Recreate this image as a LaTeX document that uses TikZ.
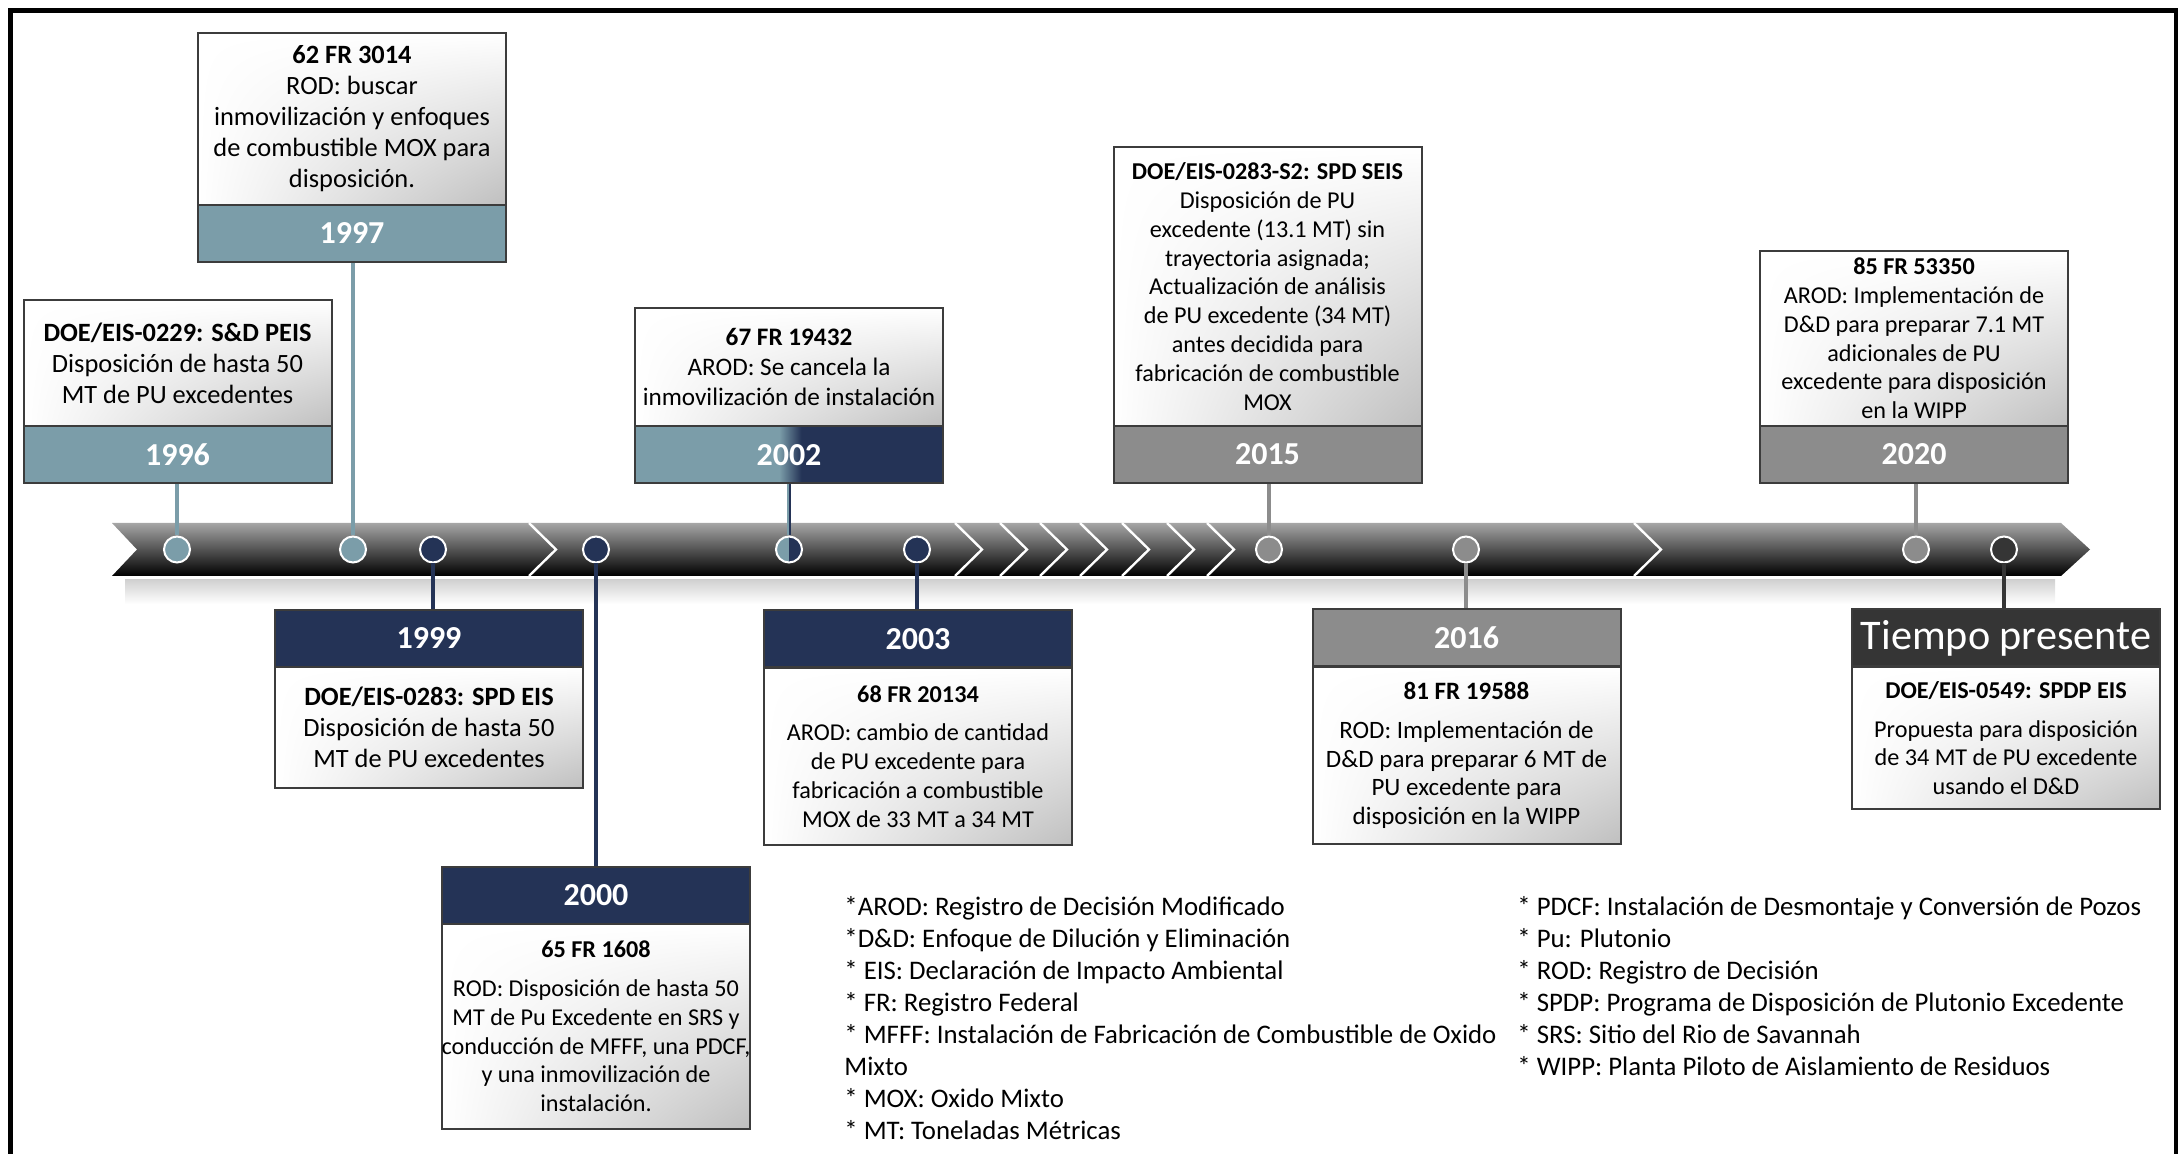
\documentclass[tikz,border=0pt]{standalone}
\usepackage{fontspec}
\setmainfont{Carlito}
\usepackage{xcolor}
\usetikzlibrary{shadings}

\definecolor{steelband}{HTML}{7B9DA9}
\definecolor{navyband}{HTML}{243356}
\definecolor{greyband}{HTML}{8C8C8C}
\definecolor{darkband}{HTML}{353535}
\definecolor{boxline}{HTML}{3C3C3C}
\pgfdeclarehorizontalshading{splitband}{100bp}{color(0bp)=(steelband); color(48.4bp)=(steelband); color(52bp)=(navyband); color(100bp)=(navyband)}

\tikzset{
    eventbox/.style = {draw = boxline, line width = 1pt, upper left = white, upper right = white,
        lower left = white, lower right = black!25, minimum width = 154pt, align = center,
        inner sep = 0pt, font = \fontsize{12.1}{14.4}\selectfont},
    bigbox/.style = {font = \fontsize{13.2}{15.5}\selectfont},
    yearband/.style = {draw = boxline, line width = 1pt, fill = #1, minimum width = 154pt,
        minimum height = 28.5pt, inner sep = 0pt, text = white, font = \fontsize{16}{18}\selectfont\bfseries},
    eventdot/.style = {circle, draw = white, line width = 1pt, fill = #1, minimum size = 13pt, inner sep = 0pt},
    eventstem/.style = {draw = #1, line width = 2.3pt},
    legendline/.style = {anchor = base west, inner sep = 0pt, font = \fontsize{13.4}{15}\selectfont}
}

\begin{document}
\begin{tikzpicture}[x = 0.5pt, y = -0.5pt]
        \useasboundingbox (0,0) rectangle (2180,1154);
        \draw[line width = 2.3pt] (10.5,1170) -- (10.5,10.5) -- (2176,10.5) -- (2176,1170);

        % Timeline
        \shade[top color = black!18, bottom color = white] (125,580) rectangle (2055,604);
        \shade[top color = black!35, middle color = black!85, bottom color = black]
            (112,523) -- (2061,523) -- (2090,549.5) -- (2061,576) -- (112,576) -- (137,549.5) -- cycle;
        \foreach \cx in {529,955,1000,1040,1080,1122,1167,1207,1634}
            \draw[white, line width = 1.2pt] (\cx,523) -- (\cx+27,549.5) -- (\cx,576);

        \node[eventdot = steelband] (d1996) at (177,549.5) {};
        \node[eventdot = steelband] (d1997) at (353,549.5) {};
        \node[eventdot = navyband] (d1999) at (433,549.5) {};
        \node[eventdot = navyband] (d2000) at (596,549.5) {};
        \node[eventdot = steelband, path picture = {\fill[navyband] (path picture bounding box.north)
            rectangle (path picture bounding box.south east);}] (d2002) at (789,549.5) {};
        \node[eventdot = navyband] (d2003) at (917,549.5) {};
        \node[eventdot = greyband] (d2015) at (1269,549.5) {};
        \node[eventdot = greyband] (d2016) at (1466,549.5) {};
        \node[eventdot = greyband] (d2020) at (1916,549.5) {};
        \node[eventdot = darkband] (dnow) at (2004,549.5) {};

        % Above the line
        \node[eventbox, bigbox, minimum height = 63pt] (t1996) at (177.5,363)
            {{\bfseries DOE/EIS-0229: S\&D PEIS}\\Disposición de hasta 50\\MT de PU excedentes};
        \node[yearband = steelband] (y1996) at (177.5,454.5) {1996};

        \node[eventbox, bigbox, minimum height = 86pt] (t1997) at (352,119)
            {{\bfseries 62 FR 3014}\\ROD: buscar\\inmovilización y enfoques\\de combustible MOX para\\disposición.};
        \node[yearband = steelband] (y1997) at (352,233.5) {1997};

        \node[eventbox, font = \fontsize{12.6}{15}\selectfont, minimum height = 59pt] (t2002) at (789,367)
            {{\bfseries 67 FR 19432}\\AROD: Se cancela la\\inmovilización de instalación};
        \node[yearband = steelband, shading = splitband] (y2002) at (789,455) {2002};

        \node[eventbox, minimum height = 139.5pt] (t2015) at (1267.5,286.5)
            {{\bfseries DOE/EIS-0283-S2: SPD SEIS}\\Disposición de PU\\excedente (13.1 MT) sin\\trayectoria asignada;\\
            Actualización de análisis\\de PU excedente (34 MT)\\antes decidida para\\fabricación de combustible\\MOX};
        \node[yearband = greyband] (y2015) at (1267.5,454.5) {2015};

        \node[eventbox, minimum height = 87.5pt] (t2020) at (1914,338.5)
            {{\bfseries 85 FR 53350}\\AROD: Implementación de\\D\&D para preparar 7.1 MT\\adicionales de PU\\excedente para disposición\\en la WIPP};
        \node[yearband = greyband] (y2020) at (1914,454.5) {2020};

        % Below the line
        \node[yearband = navyband] (y1999) at (429,638.5) {1999};
        \node[eventbox, bigbox, minimum height = 60.5pt] (t1999) at (429,727.5)
            {{\bfseries DOE/EIS-0283: SPD EIS}\\Disposición de hasta 50\\MT de PU excedentes};

        \node[yearband = navyband] (y2000) at (596,895.5) {2000};
        \node[eventbox, minimum height = 102.5pt] (t2000) at (596,1026.5)
            {{\bfseries 65 FR 1608}\\[5pt]ROD: Disposición de hasta 50\\MT de Pu Excedente en SRS y\\conducción de MFFF, una PDCF,\\y una inmovilización de\\instalación.};

        \node[yearband = navyband] (y2003) at (918,639) {2003};
        \node[eventbox, minimum height = 88.5pt] (t2003) at (918,756.5)
            {{\bfseries 68 FR 20134}\\[5pt]AROD: cambio de cantidad\\de PU excedente para\\fabricación a combustible\\MOX de 33 MT a 34 MT};

        \node[yearband = greyband] (y2016) at (1466.5,638) {2016};
        \node[eventbox, font = \fontsize{12.5}{14.4}\selectfont, minimum height = 88.5pt] (t2016) at (1466.5,755.5)
            {{\bfseries 81 FR 19588}\\[5pt]ROD: Implementación de\\D\&D para preparar 6 MT de\\PU excedente para\\disposición en la WIPP};

        \node[yearband = darkband, font = \fontsize{21.1}{23}\selectfont] (ynow) at (2006,638) {Tiempo presente};
        \node[eventbox, minimum height = 71pt] (tnow) at (2006,738)
            {{\bfseries DOE/EIS-0549: SPDP EIS}\\[5pt]Propuesta para disposición\\de 34 MT de PU excedente\\usando el D\&D};

        % Stems
        \draw[eventstem = steelband] (y1996.south -| d1996) -- (d1996.north);
        \draw[eventstem = steelband] (y1997.south -| d1997) -- (d1997.north);
        \draw[steelband, line width = 1.2pt] ([xshift = -0.6pt]y2002.south -| d2002) -- ([xshift = -0.6pt]d2002.north);
        \draw[navyband, line width = 1.2pt] ([xshift = 0.6pt]y2002.south -| d2002) -- ([xshift = 0.6pt]d2002.north);
        \draw[eventstem = greyband] (y2015.south -| d2015) -- (d2015.north);
        \draw[eventstem = greyband] (y2020.south -| d2020) -- (d2020.north);
        \draw[eventstem = navyband] (d1999.south) -- (d1999 |- y1999.north);
        \draw[eventstem = navyband] (d2000.south) -- (d2000 |- y2000.north);
        \draw[eventstem = navyband] (d2003.south) -- (d2003 |- y2003.north);
        \draw[eventstem = greyband] (d2016.south) -- (d2016 |- y2016.north);
        \draw[eventstem = darkband] (dnow.south) -- (dnow |- ynow.north);

        % Legend
        \foreach \entry [count = \i] in {{*AROD: Registro de Decisión Modificado},
            {*D\&D: Enfoque de Dilución y Eliminación}, {* EIS: Declaración de Impacto Ambiental},
            {* FR: Registro Federal}, {* MFFF: Instalación de Fabricación de Combustible de Oxido},
            {Mixto}, {* MOX: Oxido Mixto}, {* MT: Toneladas Métricas}}
            \node[legendline] (left\i) at (844,883 + 32*\i) {\entry};
        \foreach \entry [count = \i] in {{* PDCF: Instalación de Desmontaje y Conversión de Pozos},
            {* Pu: Plutonio}, {* ROD: Registro de Decisión},
            {* SPDP: Programa de Disposición de Plutonio Excedente}, {* SRS: Sitio del Rio de Savannah},
            {* WIPP: Planta Piloto de Aislamiento de Residuos}}
            \node[legendline] (right\i) at (1517,883 + 32*\i) {\entry};
\end{tikzpicture}
\end{document}
